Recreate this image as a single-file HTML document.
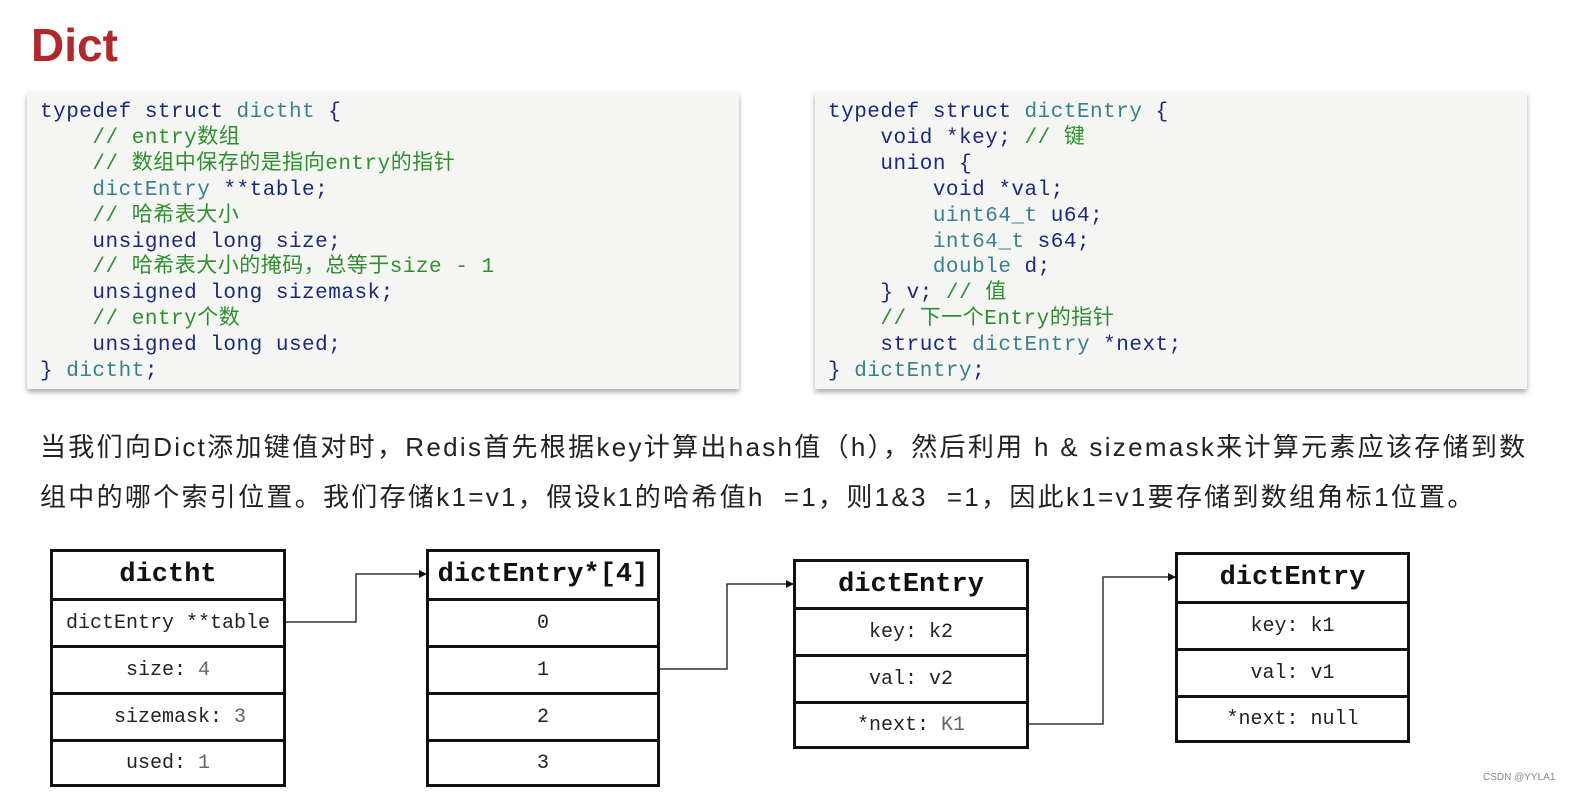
<!DOCTYPE html>
<html><head><meta charset="utf-8"><style>
body{margin:0;width:1578px;height:798px;background:#fff;position:relative;overflow:hidden;font-family:"Liberation Sans","Noto Sans CJK SC",sans-serif}
.abs{position:absolute}
h1{position:absolute;left:31px;top:18px;margin:0;font:bold 46px "Liberation Sans",sans-serif;color:#b0282a}
.code{position:absolute;top:92px;width:712px;height:297px;background:#f5f6f4;box-shadow:0 3px 5px rgba(0,0,0,.35);}
pre{margin:0;position:absolute;left:13px;top:8px;font-family:"Liberation Mono","Noto Sans CJK SC",monospace;font-size:21px;letter-spacing:0.5px;line-height:25.9px;color:#1b2a78}
.t{color:#3a7f8e}.c{color:#2f8f2f}
.p{position:absolute;left:40px;font-size:26px;letter-spacing:2.3px;color:#222;white-space:nowrap;font-family:"Liberation Sans","Noto Sans CJK SC",sans-serif}
.box{position:absolute;border:3px solid #111;box-sizing:border-box;background:#fff}
.row{border-top:3px solid #111;box-sizing:border-box;display:flex;align-items:center;justify-content:center;font:20px "Liberation Mono","DejaVu Sans Mono",monospace;color:#222}
.hd{display:flex;align-items:center;justify-content:center;font:bold 27px "Liberation Mono","DejaVu Sans Mono",monospace;color:#111}
.g{color:#666}
</style></head><body>
<h1>Dict</h1>
<div class="code" style="left:27px"><pre>typedef struct <span class="t">dictht</span> {
    <span class="c">// entry数组</span>
    <span class="c">// 数组中保存的是指向entry的指针</span>
    <span class="t">dictEntry</span> **table;
    <span class="c">// 哈希表大小</span>
    unsigned long size;
    <span class="c">// 哈希表大小的掩码，总等于size - 1</span>
    unsigned long sizemask;
    <span class="c">// entry个数</span>
    unsigned long used;
} <span class="t">dictht</span>;</pre></div>
<div class="code" style="left:815px"><pre>typedef struct <span class="t">dictEntry</span> {
    void *key; <span class="c">// 键</span>
    union {
        void *val;
        <span class="t">uint64_t</span> u64;
        <span class="t">int64_t</span> s64;
        <span class="t">double</span> d;
    } v; <span class="c">// 值</span>
    <span class="c">// 下一个Entry的指针</span>
    struct <span class="t">dictEntry</span> *next;
} <span class="t">dictEntry</span>;</pre></div>
<div class="p" style="top:427px">当我们向Dict添加键值对时，Redis首先根据key计算出hash值（h），然后利用 h &amp; sizemask来计算元素应该存储到数</div>
<div class="p" style="top:477px">组中的哪个索引位置。我们存储k1=v1，假设k1的哈希值h &nbsp;=1，则1&amp;3 &nbsp;=1，因此k1=v1要存储到数组角标1位置。</div>

<div class="box" style="left:50px;top:549px;width:236px;height:238px">
<div class="hd" style="height:46px">dictht</div>
<div class="row" style="height:47px">dictEntry **table</div>
<div class="row" style="height:47px">size: <span class="g">&nbsp;4</span></div>
<div class="row" style="height:47px">&nbsp;&nbsp;sizemask: <span class="g">&nbsp;3</span></div>
<div class="row" style="height:45px">used: <span class="g">&nbsp;1</span></div>
</div>
<div class="box" style="left:426px;top:549px;width:234px;height:238px">
<div class="hd" style="height:46px">dictEntry*[4]</div>
<div class="row" style="height:47px">0</div>
<div class="row" style="height:47px">1</div>
<div class="row" style="height:47px">2</div>
<div class="row" style="height:45px">3</div>
</div>
<div class="box" style="left:793px;top:559px;width:236px;height:190px">
<div class="hd" style="height:45px">dictEntry</div>
<div class="row" style="height:47px">key: k2</div>
<div class="row" style="height:47px">val: v2</div>
<div class="row" style="height:45px">*next: <span class="g">&nbsp;K1</span></div>
</div>
<div class="box" style="left:1175px;top:552px;width:235px;height:191px">
<div class="hd" style="height:46px">dictEntry</div>
<div class="row" style="height:47px">key: k1</div>
<div class="row" style="height:47px">val: v1</div>
<div class="row" style="height:45px">*next: null</div>
</div>
<svg class="abs" style="left:0;top:0" width="1578" height="798">
<defs><marker id="a" markerWidth="8" markerHeight="8" refX="7" refY="4" orient="auto" markerUnits="userSpaceOnUse"><path d="M0,0L8,4L0,8z" fill="#111"/></marker></defs>
<g fill="none" stroke="#333" stroke-width="1.5">
<path d="M286,622H356V574H426" marker-end="url(#a)"/>
<path d="M660,669H727V584H793" marker-end="url(#a)"/>
<path d="M1029,724H1103V577H1175" marker-end="url(#a)"/>
</g></svg>
<div class="abs" style="left:1483px;top:772px;font-size:10px;color:#888">CSDN @YYLA1</div>
</body></html>
